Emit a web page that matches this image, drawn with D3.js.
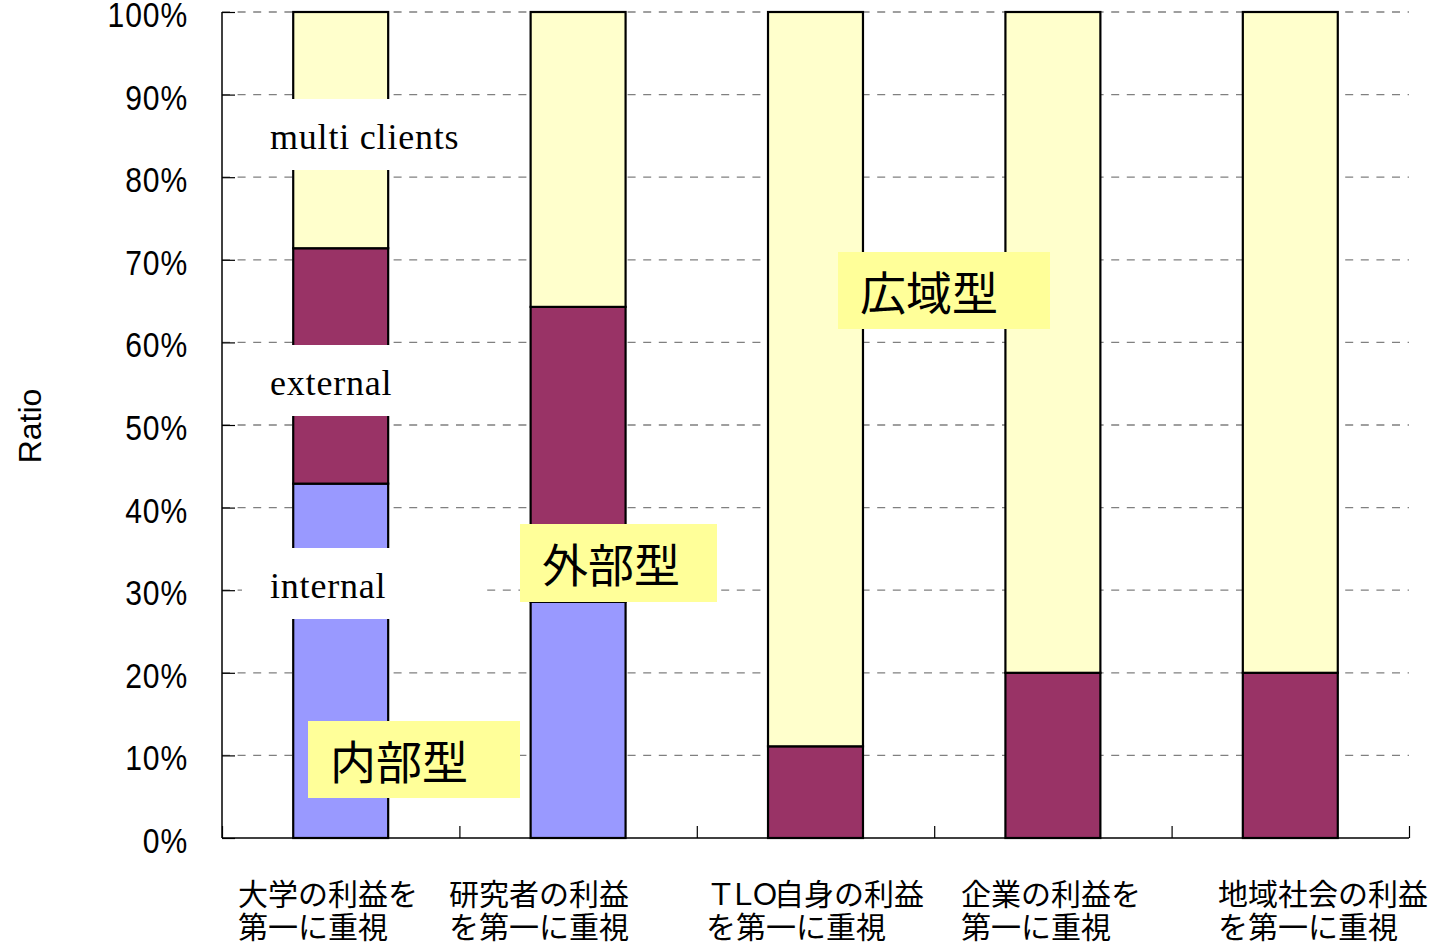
<!DOCTYPE html>
<html><head><meta charset="utf-8">
<script src="https://cdn.jsdelivr.net/npm/d3@7"></script>
<style>
html,body{margin:0;padding:0;background:#fff;}
svg{display:block;}
</style></head>
<body>
<svg id="chart" width="1446" height="945"></svg>
<script>
// ---- data ----
const categories = ["大学の利益を第一に重視","研究者の利益を第一に重視","ＴＬＯ自身の利益を第一に重視","企業の利益を第一に重視","地域社会の利益を第一に重視"];
const categoryLines = [
  ["大学の利益を","第一に重視"],
  ["研究者の利益","を第一に重視"],
  ["ＴＬＯ自身の利益","を第一に重視"],
  ["企業の利益を","第一に重視"],
  ["地域社会の利益","を第一に重視"]
];
const seriesNames = ["internal","external","multi clients"];
const internalValues = [0.429, 0.286, 0.0, 0.0, 0.0];
const externalValues = [0.285, 0.357, 0.111, 0.2, 0.2];
const multiValues    = [0.286, 0.357, 0.889, 0.8, 0.8];
const yTicks = [0,0.1,0.2,0.3,0.4,0.5,0.6,0.7,0.8,0.9,1.0];
const yTickLabels = ["0%","10%","20%","30%","40%","50%","60%","70%","80%","90%","100%"];
const seriesColors = ["#9999FF","#993366","#FFFFCC"];
const typeLabels = ["内部型","外部型","広域型"];

// ---- layout ----
const svg = d3.select("#chart");
const plot = {left:222, right:1409, top:12, bottom:838};
const x = d3.scaleBand().domain(categories).range([plot.left, plot.right]).paddingInner(0).paddingOuter(0);
const y = d3.scaleLinear().domain([0,1]).range([plot.bottom, plot.top]);
const barW = x.bandwidth()*0.4;

const rows = categories.map((c,i)=>({cat:c, vals:[internalValues[i], externalValues[i], multiValues[i]]}));
const stack = d3.stack().keys([0,1,2]).value((d,k)=>d.vals[k]);
const stacked = stack(rows);

// gridlines
svg.append("g").selectAll("line").data(yTicks.filter(t=>t>0)).join("line")
  .attr("x1", plot.left).attr("x2", plot.right)
  .attr("y1", d=>y(d)).attr("y2", d=>y(d))
  .attr("stroke","#808080").attr("stroke-width",1.3).attr("stroke-dasharray","8,7.6");

// bars
const layers = svg.append("g").selectAll("g").data(stacked).join("g")
  .attr("fill",(d,i)=>seriesColors[i]);
layers.selectAll("rect").data(d=>d.filter(s=>s[1]-s[0]>0)).join("rect")
  .attr("x", d=>x(d.data.cat)+(x.bandwidth()-barW)/2)
  .attr("width", barW)
  .attr("y", d=>y(d[1]))
  .attr("height", d=>y(d[0])-y(d[1]))
  .attr("stroke","#000").attr("stroke-width",2.2);

// axes
const yAxis = svg.append("g").attr("transform",`translate(${plot.left},0)`)
  .call(d3.axisRight(y).tickValues(yTicks).tickSize(13).tickFormat(""));
yAxis.select(".domain").attr("stroke","#000").attr("stroke-width",1.5).attr("d",`M0,${plot.top}V${plot.bottom}`);
yAxis.selectAll(".tick line").attr("stroke","#000").attr("stroke-width",1.2);

const xAxis = svg.append("g").attr("transform",`translate(0,${plot.bottom})`)
  .call(d3.axisTop(d3.scaleLinear().domain([0,categories.length]).range([plot.left,plot.right]))
    .tickValues(d3.range(0,categories.length+1)).tickSize(12).tickFormat(""));
xAxis.select(".domain").attr("stroke","#000").attr("stroke-width",1.5).attr("d",`M${plot.left},0H${plot.right}`);
xAxis.selectAll(".tick line").attr("stroke","#000").attr("stroke-width",1.2);

// y tick labels
svg.append("g").selectAll("text").data(yTicks).join("text")
  .attr("transform", d=>`translate(188,${y(d)+15}) scale(0.86,1)`)
  .attr("text-anchor","end")
  .attr("font-family","'Liberation Sans', Arial, sans-serif")
  .attr("font-size",35).attr("letter-spacing",1).attr("fill","#000")
  .text((d,i)=>yTickLabels[i]);

// y title
svg.append("text").attr("transform","translate(41,426) rotate(-90)")
  .attr("text-anchor","middle")
  .attr("font-family","'Liberation Sans', Arial, sans-serif")
  .attr("font-size",32).attr("fill","#000").text("Ratio");

// x category labels (left-aligned blocks)
const labelStart = [238, 449, 706, 961, 1218];
const xl = svg.append("g");
categoryLines.forEach((lines,i)=>{
  lines.forEach((ln,j)=>{
    const t = xl.append("text")
      .attr("x", labelStart[i]).attr("y", 905 + j*33)
      .attr("font-family","'Noto Sans CJK JP', sans-serif")
      .attr("font-size",30).attr("fill","#000");
    if (ln.startsWith("ＴＬＯ")) {
      t.append("tspan").text("Ｔ");
      t.append("tspan").attr("dx",-8).text("Ｌ");
      t.append("tspan").attr("dx",-8).text("Ｏ");
      t.append("tspan").attr("dx",-6).text(ln.slice(3));
    } else t.text(ln);
  });
});

// white series labels over first bar
const seriesLabelBoxes = [
  {name:seriesNames[2], top:99},
  {name:seriesNames[1], top:345},
  {name:seriesNames[0], top:548}
];
const sl = svg.append("g");
seriesLabelBoxes.forEach(b=>{
  sl.append("rect").attr("x",242).attr("y",b.top).attr("width",240).attr("height",71).attr("fill","#fff");
  sl.append("text").attr("x",270).attr("y",b.top+50)
    .attr("font-family","'Liberation Serif','Times New Roman',serif")
    .attr("font-size",36).attr("letter-spacing",0.8).attr("fill","#000").text(b.name);
});

// yellow type annotations
const typeBoxes = [
  {text:typeLabels[0], x:308, y:721, w:212, h:77},
  {text:typeLabels[1], x:520, y:524, w:197, h:78},
  {text:typeLabels[2], x:838, y:252, w:212, h:77}
];
const ta = svg.append("g");
typeBoxes.forEach(b=>{
  ta.append("rect").attr("x",b.x).attr("y",b.y).attr("width",b.w).attr("height",b.h).attr("fill","#FFFF99");
  ta.append("text").attr("x",b.x+22).attr("y",b.y+58)
    .attr("font-family","'Noto Sans CJK JP', sans-serif")
    .attr("font-size",46).attr("fill","#000").text(b.text);
});
</script>
</body></html>
